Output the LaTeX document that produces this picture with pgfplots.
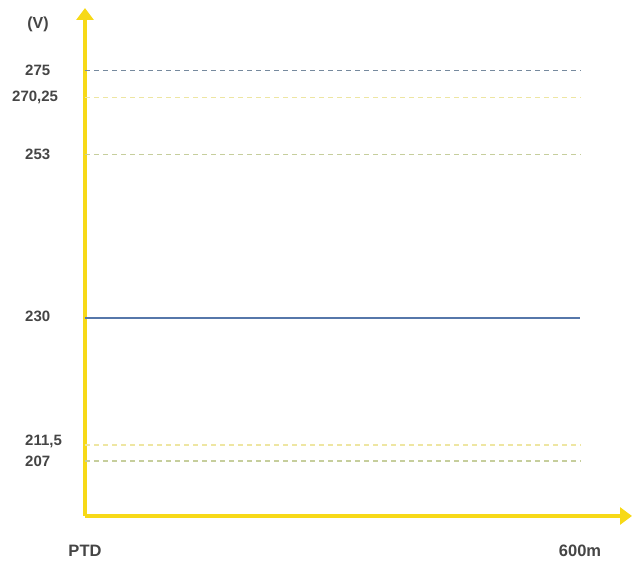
\documentclass[border=0pt]{standalone}
\usepackage{pgfplots}
\pgfplotsset{compat=1.18}
\usepackage{fontspec}
\setmainfont{Liberation Sans}
\usetikzlibrary{arrows.meta}
\definecolor{axyellow}{HTML}{F7D917}
\definecolor{lblue}{HTML}{5677AA}
\definecolor{dblue}{HTML}{768A9E}
\definecolor{lyellow}{HTML}{EEE6A2}
\definecolor{lgreen}{HTML}{C6CE9C}
\definecolor{txt}{HTML}{454545}
% piecewise map of voltage values onto the drawn height (pt above the x axis)
\newcommand\vtrafo[1]{%
  \begingroup\pgfkeys{/pgf/fpu=true,/pgf/fpu/output format=fixed}%
  \pgfmathparse{ifthenelse(#1<211.5, 55+(#1-207)*16/4.5, ifthenelse(#1<230, 71+(#1-211.5)*127/18.5, ifthenelse(#1<253, 198+(#1-230)*164/23, ifthenelse(#1<270.25, 362+(#1-253)*57/17.25, 419+(#1-270.25)*27/4.75))))}%
  \xdef\vtmp{\pgfmathresult}\endgroup
  \edef\pgfmathresult{\vtmp}}
\begin{document}
\begin{tikzpicture}
\path[use as bounding box] (-85pt,-48pt) rectangle (549pt,516pt);
\begin{axis}[
  scale only axis,
  width=547pt, height=508pt,
  xmin=0, xmax=663,
  y coord trafo/.code={\vtrafo{#1}},
  ymin=191.53, ymax=285.93,
  axis lines=left,
  axis line style={draw=axyellow, line width=4.5pt, -{Triangle[width=17pt,length=12pt]}},
  xtick={0,600}, xticklabels={PTD,600m},
  ytick={207,211.5,230,253,270.25,275},
  yticklabels={207,\raisebox{10pt}{211,5},\raisebox{4pt}{230},253,\raisebox{-3pt}{\hspace*{-13pt}270,25},275},
  major tick length=0pt,
  tick label style={font=\fontsize{15}{17}\selectfont\bfseries, text=txt},
  yticklabel style={anchor=west, inner sep=0pt, xshift=-60pt},
  xticklabel style={anchor=center, yshift=-35pt, font=\fontsize{16.5}{18}\selectfont\bfseries},
  clip=false,
]
\addplot[lgreen, line width=1.1pt, dash pattern=on 5pt off 4pt] coordinates {(0,207) (600,207)};
\addplot[lyellow, line width=1.1pt, dash pattern=on 5pt off 4pt] coordinates {(0,211.5) (600,211.5)};
\addplot[lblue, line width=1.1pt] coordinates {(0,230) (600,230)};
\addplot[lgreen, line width=1.1pt, dash pattern=on 5pt off 4pt] coordinates {(0,253) (600,253)};
\addplot[lyellow, line width=1.1pt, dash pattern=on 5pt off 4pt] coordinates {(0,270.25) (600,270.25)};
\addplot[dblue, line width=1.1pt, dash pattern=on 5pt off 4pt] coordinates {(0,275) (600,275)};
\node[font=\fontsize{16}{18}\selectfont\bfseries, text=txt] at (axis description cs:-0.086,0.967) {(V)};
\end{axis}
\end{tikzpicture}
\end{document}
